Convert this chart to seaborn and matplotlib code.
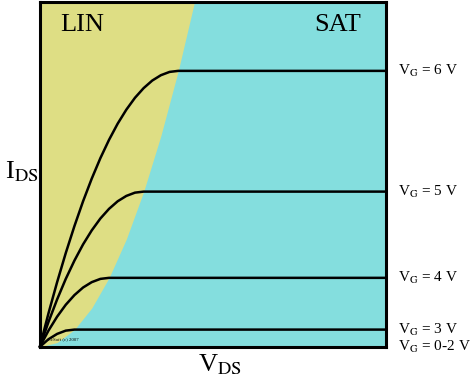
import numpy as np
import pandas as pd
import matplotlib
matplotlib.use("Agg")
import matplotlib.pyplot as plt
import seaborn as sns

# drain voltage samples (V)
vds_vg6 = [0, 0.25, 0.5, 0.75, 1.0, 1.25, 1.5, 1.75, 2.0, 2.25, 2.5, 2.75, 3.0, 3.25, 3.5, 3.75, 4.0, 10.0]
ids_vg6 = [0, 1.94, 3.75, 5.44, 7.0, 8.44, 9.75, 10.94, 12.0, 12.94, 13.75, 14.44, 15.0, 15.44, 15.75, 15.94, 16.0, 16.0]
vds_vg5 = [0, 0.25, 0.5, 0.75, 1.0, 1.25, 1.5, 1.75, 2.0, 2.25, 2.5, 2.75, 3.0, 10.0]
ids_vg5 = [0, 1.44, 2.75, 3.94, 5.0, 5.94, 6.75, 7.44, 8.0, 8.44, 8.75, 8.94, 9.0, 9.0]
vds_vg4 = [0, 0.25, 0.5, 0.75, 1.0, 1.25, 1.5, 1.75, 2.0, 10.0]
ids_vg4 = [0, 0.94, 1.75, 2.44, 3.0, 3.44, 3.75, 3.94, 4.0, 4.0]
vds_vg3 = [0, 0.25, 0.5, 0.75, 1.0, 10.0]
ids_vg3 = [0, 0.44, 0.75, 0.94, 1.0, 1.0]
vds_vg0 = [0, 10.0]
ids_vg0 = [0, 0]

# LIN / SAT boundary (Vds = Vds,sat)
edge_vds = [0, 0.5, 1.0, 1.5, 2.0, 2.5, 3.0, 3.5, 4.0, 4.47]
edge_ids = [0, 0.25, 1.0, 2.25, 4.0, 6.25, 9.0, 12.25, 16.0, 20.0]

curve_labels = ["V$_\\mathrm{G}$ = 6 V", "V$_\\mathrm{G}$ = 5 V", "V$_\\mathrm{G}$ = 4 V",
                "V$_\\mathrm{G}$ = 3 V", "V$_\\mathrm{G}$ = 0-2 V"]

sns.set_style("white")
plt.rcParams["font.family"] = ["Liberation Serif", "DejaVu Serif"]
plt.rcParams["mathtext.fontset"] = "stix"
plt.rcParams["text.color"] = "black"

fig = plt.figure(figsize=(4.74, 3.77), dpi=100)
ax = fig.add_axes([0.084, 0.08, 0.730, 0.915])
ax.set_facecolor("#84dede")

ax.fill_betweenx(edge_ids, 0, edge_vds, color="#dede84", lw=0)

curves = [(vds_vg6, ids_vg6), (vds_vg5, ids_vg5), (vds_vg4, ids_vg4),
          (vds_vg3, ids_vg3), (vds_vg0, ids_vg0)]
for (vx, iy) in curves:
    df = pd.DataFrame({"vds": vx, "ids": iy})
    sns.lineplot(data=df, x="vds", y="ids", color="black", lw=1.8, ax=ax,
                 sort=False, estimator=None, clip_on=False)

ax.set_xlim(0, 10)
ax.set_ylim(0, 20)
ax.set_xticks([])
ax.set_yticks([])
ax.set_xlabel("")
ax.set_ylabel("")
for s in ax.spines.values():
    s.set_linewidth(2.2)
    s.set_color("black")

ax.text(0.6, 19.3, "LIN", fontsize=19, va="top", ha="left", color="black")
ax.text(9.3, 19.3, "SAT", fontsize=19, va="top", ha="right", color="black")
ax.text(0.25, 0.35, "EcSoft (c) 2007", fontsize=3.5, va="bottom", ha="left", color="black")

label_y = [16, 9, 4, 1, 0]
for yy, lab in zip(label_y, curve_labels):
    ax.text(10.35, yy, lab, fontsize=11, va="center", ha="left", clip_on=False, color="black")

fig.text(0.045, 0.545, "I$_\\mathrm{DS}$", fontsize=19, ha="center", va="center", color="black")
fig.text(0.465, 0.032, "V$_\\mathrm{DS}$", fontsize=19, ha="center", va="center", color="black")

fig.savefig("out.png", dpi=100)
